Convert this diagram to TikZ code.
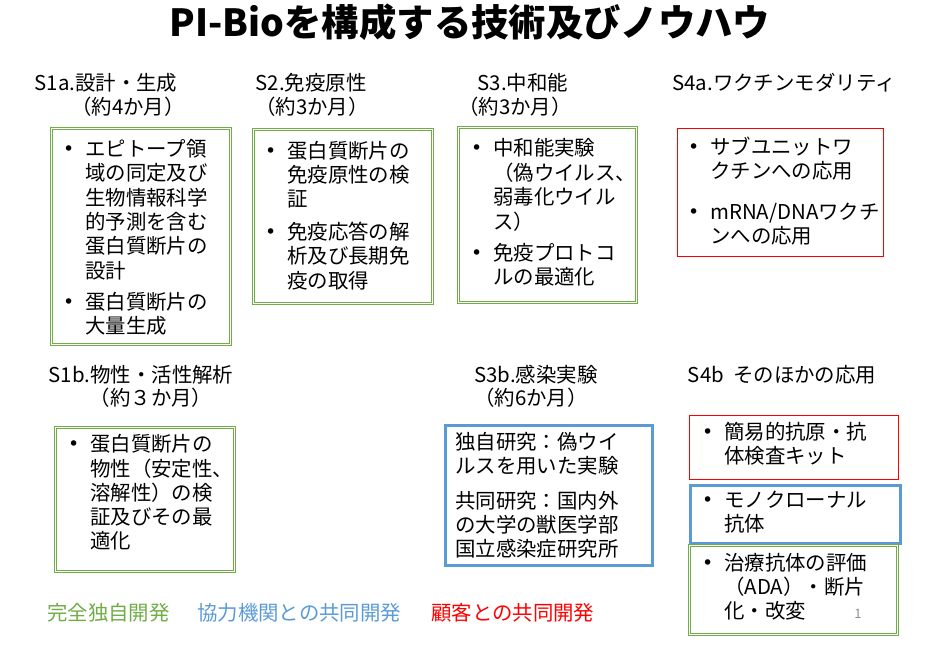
\documentclass[tikz,border=0pt]{standalone}
\usepackage{fontspec}
\setmainfont{Noto Sans CJK JP}
\newfontfamily\djf{DejaVu Sans}
\usetikzlibrary{calc}
\definecolor{gr}{HTML}{70AD47}
\definecolor{bl}{HTML}{5B9BD5}
\definecolor{rd}{HTML}{FF0000}
\definecolor{pg}{HTML}{8C8C8C}
\newcommand\bul{\makebox[22bp][l]{\raisebox{1pt}{\djf\fontsize{19}{19}\selectfont •}}}
\tikzset{
  gbox/.style={draw=gr, line width=1bp, double=white, double distance=1bp, inner sep=0pt, anchor=north west},
  rbox/.style={draw=rd, line width=1bp, inner sep=0pt, anchor=north west},
  bbox/.style={draw=bl, line width=3bp, inner sep=0pt, anchor=north west},
  body/.style={inner sep=0pt, anchor=north west, font=\fontsize{20.5}{24}\selectfont},
  head/.style={inner sep=0pt, font=\fontsize{20.5}{24}\selectfont},
  legend/.style={inner sep=0pt, anchor=west, font=\fontsize{20.5}{24}\selectfont},
}
\begin{document}
\begin{tikzpicture}[x=1bp,y=-1bp]
\useasboundingbox (0,0) rectangle (930,646);
% title
\node[inner sep=0pt, font=\fontsize{37.5}{40}\selectfont\bfseries] (title) at (470,22) {PI-Bioを構成する技術及びノウハウ};
% headings
\node[head] (h1a) at (106,83) {S1a.設計・生成};
\node[head] (h1a2) at (128,107) {（約4か月）};
\node[head] (h2) at (311,83) {S2.免疫原性};
\node[head] (h22) at (312,107) {（約3か月）};
\node[head] (h3) at (523,83) {S3.中和能};
\node[head] (h32) at (515,107) {（約3か月）};
\node[head] (h4a) at (784,83) {S4a.ワクチンモダリティ};
\node[head] (h1b) at (141,375) {S1b.物性・活性解析};
\node[head] (h1b2) at (151,398) {（約３か月）};
\node[head] (h3b) at (536,375) {S3b.感染実験};
\node[head] (h3b2) at (531,398) {（約6か月）};
\node[head] (h4b) at (782,375) {S4b\hspace{0.45em}そのほかの応用};
% boxes
\node[gbox, minimum width=179bp, minimum height=215bp] (b1a) at (50.5,128.5) {};
\node[gbox, minimum width=179bp, minimum height=173bp] (b2) at (252.5,129.5) {};
\node[gbox, minimum width=178bp, minimum height=174bp] (b3) at (457.5,127.5) {};
\node[rbox, minimum width=206bp, minimum height=127bp] (b4a) at (676.5,128.5) {};
\node[gbox, minimum width=179bp, minimum height=144bp] (b1b) at (54.5,426.5) {};
\node[bbox, minimum width=207bp, minimum height=140bp] (b3b) at (443.5,423.5) {};
\node[rbox, minimum width=209bp, minimum height=64bp] (b4b1) at (688.5,414.5) {};
\node[bbox, minimum width=210bp, minimum height=58bp] (b4b2) at (688.5,483.5) {};
\node[gbox, minimum width=208bp, minimum height=89bp] (b4b3) at (688.5,544.5) {};
% box texts
\node[body] (t1a) at (63,139) {\begin{tabular}{@{}l@{}l@{}}
\bul & エピトープ領\\
 & 域の同定及び\\
 & 生物情報科学\\
 & 的予測を含む\\
 & 蛋白質断片の\\
 & 設計\\[7pt]
\bul & 蛋白質断片の\\
 & 大量生成
\end{tabular}};
\node[body] (t2) at (265,141) {\begin{tabular}{@{}l@{}l@{}}
\bul & 蛋白質断片の\\
 & 免疫原性の検\\
 & 証\\[8pt]
\bul & 免疫応答の解\\
 & 析及び長期免\\
 & 疫の取得
\end{tabular}};
\node[body] (t3) at (471,138) {\begin{tabular}{@{}l@{}l@{}}
\bul & 中和能実験\\
 & （偽ウイルス、\\
 & 弱毒化ウイル\\
 & ス）\\[7pt]
\bul & 免疫プロトコ\\
 & ルの最適化
\end{tabular}};
\node[body, font=\fontsize{20.5}{22}\selectfont] (t4a) at (688,137) {\begin{tabular}{@{}l@{}l@{}}
\bul & サブユニットワ\\
 & クチンへの応用\\[18pt]
\bul & mRNA/DNAワクチ\\
 & ンへの応用
\end{tabular}};
\node[body] (t1b) at (68,434) {\begin{tabular}{@{}l@{}l@{}}
\bul & 蛋白質断片の\\
 & 物性（安定性、\\
 & 溶解性）の検\\
 & 証及びその最\\
 & 適化
\end{tabular}};
\node[body] (t3b) at (455,432) {\begin{tabular}{@{}l@{}}
独自研究：偽ウイ\\
ルスを用いた実験\\[10pt]
共同研究：国内外\\
の大学の獣医学部\\
国立感染症研究所
\end{tabular}};
\node[body] (t4b1) at (702,422) {\begin{tabular}{@{}l@{}l@{}}
\bul & 簡易的抗原・抗\\
 & 体検査キット
\end{tabular}};
\node[body, font=\fontsize{20.5}{22.5}\selectfont] (t4b2) at (702,491) {\begin{tabular}{@{}l@{}l@{}}
\bul & モノクローナル\\
 & 抗体
\end{tabular}};
\node[body, font=\fontsize{20.5}{23}\selectfont] (t4b3) at (702,553) {\begin{tabular}{@{}l@{}l@{}}
\bul & 治療抗体の評価\\
 & （ADA）・断片\\
 & 化・改変
\end{tabular}};
% legend
\node[legend, text=gr] (l1) at (47,613) {完全独自開発};
\node[legend, text=bl] (l2) at (197,613) {協力機関との共同開発};
\node[legend, text=rd] (l3) at (431,613) {顧客との共同開発};
% page number
\node[inner sep=0pt, text=pg, font=\fontsize{13}{15}\selectfont] (pn) at (858,614) {1};
\end{tikzpicture}
\end{document}
